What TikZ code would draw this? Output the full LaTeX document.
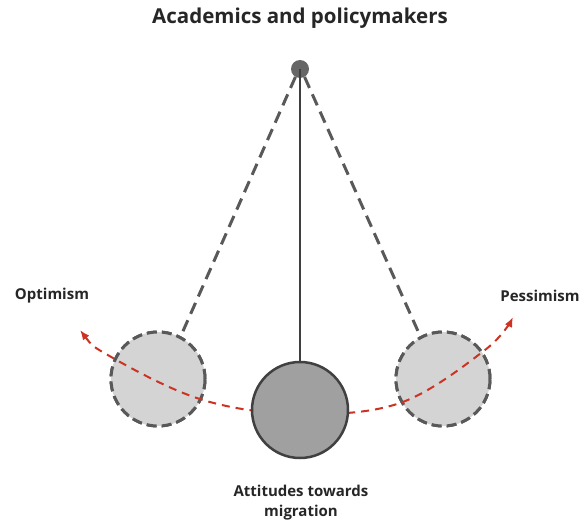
\documentclass[tikz,border=0pt]{standalone}
\usepackage{fontspec}
\setmainfont{Open Sans}
\usetikzlibrary{arrows.meta}
\definecolor{pivotgrey}{HTML}{666666}
\definecolor{stringgrey}{HTML}{595959}
\definecolor{ballgrey}{HTML}{A0A0A0}
\definecolor{ghostgrey}{HTML}{D4D4D4}
\definecolor{rimgrey}{HTML}{404040}
\definecolor{swingred}{HTML}{CC3322}
\tikzset{
  label text/.style={font=\bfseries\fontsize{15}{20}\selectfont, text=black!85, align=center},
  swing string/.style={draw=stringgrey, line width=3pt, dash pattern=on 12pt off 7pt},
  ghost ball/.style={circle, minimum size=94pt, inner sep=0pt, fill=ghostgrey, draw=stringgrey, line width=3pt, dash pattern=on 10pt off 5pt},
  main ball/.style={circle, minimum size=96pt, inner sep=0pt, fill=ballgrey, draw=rimgrey, line width=2.5pt},
  swing path/.style={draw=swingred, line width=2pt, dash pattern=on 8pt off 6pt, {Latex[length=10pt,width=8pt]}-{Latex[length=10pt,width=8pt]}}
}
\begin{document}
\begin{tikzpicture}[x=1pt,y=-1pt]
  \useasboundingbox (0,0) rectangle (581,524);

  % pivot and the three weights
  \node[circle, minimum size=18pt, inner sep=0pt, fill=pivotgrey] (pivot) at (300,69) {};
  \node[ghost ball] (left) at (158,379) {};
  \node[ghost ball] (right) at (443,379) {};

  % strings to the swung-out weights
  \draw[swing string] (pivot.240) -- (left.62);
  \draw[swing string] (pivot.300) -- (right.118);

  % redraw the dashed weights above their strings
  \node[ghost ball] at (158,379) {};
  \node[ghost ball] at (443,379) {};

  % swing path of the pendulum
  \coordinate (optend) at (80,330);
  \coordinate (pesend) at (513,317);
  \draw[swing path] plot[smooth, tension=0.6] coordinates
    {(optend) (113,358) (203,400) (300,414) (400,403) (485,350) (pesend)};

  % resting weight on its string
  \node[main ball] (centre) at (300,410) {};
  \draw[draw=rimgrey, line width=2pt] (pivot.center) -- (centre.north);

  % labels
  \node[font=\bfseries\fontsize{20.5}{24}\selectfont, text=black!85] (title) at (300,18) {Academics and policymakers};
  \node[label text] (opt) at (52,296) {Optimism};
  \node[label text] (pes) at (540,296) {Pessimism};
  \node[label text] (att) at (301,503) {Attitudes towards\\migration};
\end{tikzpicture}
\end{document}
